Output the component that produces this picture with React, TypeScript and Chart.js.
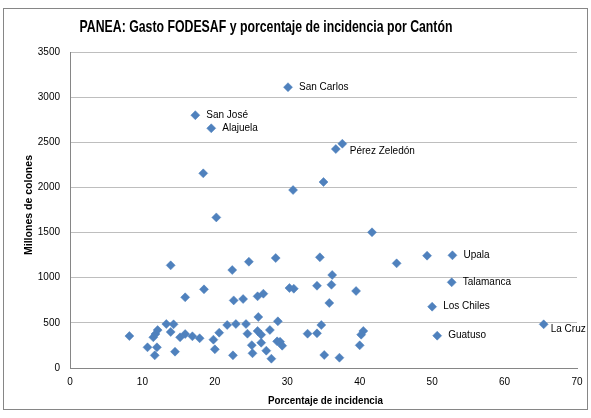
import React, { useEffect, useRef } from "react";
import { Chart, registerables } from "chart.js";

Chart.register(...registerables);

const incidence: number[] = [
  30.1, 17.3, 19.5, 37.6, 36.7, 18.4, 30.8, 35.0, 20.2, 41.7,
  13.9, 22.4, 24.7, 28.4, 34.5, 45.1, 49.3, 52.8, 52.7, 36.2,
  36.1, 34.1, 30.3, 30.9, 39.5, 18.5, 15.9, 22.6, 23.9, 25.9,
  26.7, 35.8, 50.0, 26.0, 28.7, 65.4, 50.7, 8.2, 10.7, 11.7,
  12.0, 11.5, 11.8, 12.1, 13.3, 14.3, 13.9, 14.5, 15.2, 15.9,
  16.9, 17.9, 19.8, 20.0, 20.6, 21.7, 22.5, 22.9, 24.3, 24.5,
  25.1, 25.2, 25.9, 26.4, 26.4, 27.6, 28.6, 29.0, 29.3, 27.1,
  27.8, 34.7, 32.8, 34.1, 40.5, 40.2, 40.0, 35.1, 37.2,
];

const gasto: number[] = [
  3110, 2800, 2655, 2484, 2425, 2156, 1971, 2060, 1668, 1503,
  1137, 1085, 1177, 1218, 1226, 1159, 1244, 1248, 949, 1030,
  922, 911, 886, 878, 853, 871, 783, 749, 764, 794,
  823, 720, 679, 565, 517, 484, 358, 354, 229, 140,
  229, 340, 376, 420, 487, 484, 399, 181, 340, 376,
  351, 329, 314, 207, 391, 476, 140, 487, 487, 380,
  253, 163, 410, 369, 280, 421, 295, 291, 247, 192,
  103, 476, 380, 384, 410, 369, 251, 144, 114,
];

const canton: string[] = [
  "San Carlos", "San José", "Alajuela", "", "Pérez Zeledón", "", "", "", "", "",
  "", "", "", "", "", "", "", "Upala", "Talamanca", "",
  "", "", "", "", "", "", "", "", "", "",
  "", "", "Los Chiles", "", "", "La Cruz", "Guatuso",
];

const xTicks = [0, 10, 20, 30, 40, 50, 60, 70];
const yTicks = [0, 500, 1000, 1500, 2000, 2500, 3000, 3500];

const TITLE = "PANEA: Gasto FODESAF y porcentaje de incidencia por Cantón";
const X_TITLE = "Porcentaje de incidencia";
const Y_TITLE = "Millones de colones";

const labelOffsets: Record<string, [number, number]> = {
  "Pérez Zeledón": [14, 2],
  "La Cruz": [7, 5],
};

const decorPlugin = {
  id: "decor",
  beforeDraw(chart: any) {
    const ctx = chart.ctx;
    ctx.save();
    ctx.fillStyle = "#ffffff";
    ctx.fillRect(0, 0, chart.width, chart.height);
    ctx.strokeStyle = "#868686";
    ctx.lineWidth = 1;
    ctx.strokeRect(3.5, 8.5, 584, 401);
    ctx.restore();
  },
  afterDraw(chart: any) {
    const ctx = chart.ctx;
    const area = chart.chartArea;
    ctx.save();
    ctx.fillStyle = "#000000";
    ctx.textBaseline = "middle";
    ctx.textAlign = "center";
    ctx.font = "bold 17px 'Liberation Sans', Lato, sans-serif";
    ctx.fillText(TITLE, 266, 27, 373);
    ctx.font = "bold 11px 'Liberation Sans', Lato, sans-serif";
    ctx.fillText(X_TITLE, (area.left + area.right) / 2 + 2, 401, 115);
    ctx.save();
    ctx.translate(29, (area.top + area.bottom) / 2 - 5);
    ctx.rotate(-Math.PI / 2);
    ctx.fillText(Y_TITLE, 0, 0, 100);
    ctx.restore();

    const meta = chart.getDatasetMeta(0);
    ctx.textAlign = "left";
    ctx.font = "10px 'Liberation Sans', Lato, sans-serif";
    ctx.fillStyle = "#000000";
    canton.forEach((name, i) => {
      if (!name) return;
      const el = meta.data[i];
      if (!el) return;
      const off = labelOffsets[name] || [11, 0];
      ctx.fillText(name, el.x + off[0], el.y + off[1]);
    });
    ctx.restore();
  },
};

export default function App() {
  const ref = useRef<HTMLCanvasElement | null>(null);
  useEffect(() => {
    document.body.style.margin = "0";
    const canvas = ref.current;
    if (!canvas) return;
    const points = incidence.map((x, i) => ({ x, y: gasto[i] }));
    const chart = new Chart(canvas, {
      type: "scatter",
      data: {
        datasets: [
          {
            data: points,
            pointStyle: "rectRot",
            pointRadius: 4.5,
            pointBackgroundColor: "#4F81BD",
            pointBorderColor: "#4F81BD",
            pointBorderWidth: 0.5,
          },
        ],
      },
      options: {
        responsive: false,
        animation: false,
        devicePixelRatio: 1,
        layout: { padding: { top: 52, right: 14, left: 0, bottom: 0 } },
        plugins: {
          legend: { display: false },
          tooltip: { enabled: false },
        },
        scales: {
          x: {
            type: "linear",
            min: 0,
            max: 70,
            afterBuildTicks: (s: any) => {
              s.ticks = xTicks.map((v) => ({ value: v }));
            },
            afterFit: (s: any) => {
              s.height = 50;
            },
            grid: { display: false, drawTicks: false },
            border: { display: true, color: "#868686", width: 1 },
            ticks: {
              padding: 8,
              color: "#000",
              font: { family: "'Liberation Sans', sans-serif", size: 10 },
              callback: (v: any) => String(v),
            },
          },
          y: {
            type: "linear",
            min: 0,
            max: 3500,
            afterBuildTicks: (s: any) => {
              s.ticks = yTicks.map((v) => ({ value: v }));
            },
            afterFit: (s: any) => {
              s.width = 70;
            },
            grid: { color: "#BEBEBE", drawTicks: false, lineWidth: 1 },
            border: { display: true, color: "#868686", width: 1 },
            ticks: {
              padding: 10,
              color: "#000",
              font: { family: "'Liberation Sans', sans-serif", size: 10 },
              callback: (v: any) => String(v),
            },
          },
        },
      },
      plugins: [decorPlugin],
    } as any);
    return () => chart.destroy();
  }, []);
  return (
    <div style={{ width: 591, height: 418 }}>
      <canvas ref={ref} width={591} height={418} style={{ display: "block" }} />
    </div>
  );
}
